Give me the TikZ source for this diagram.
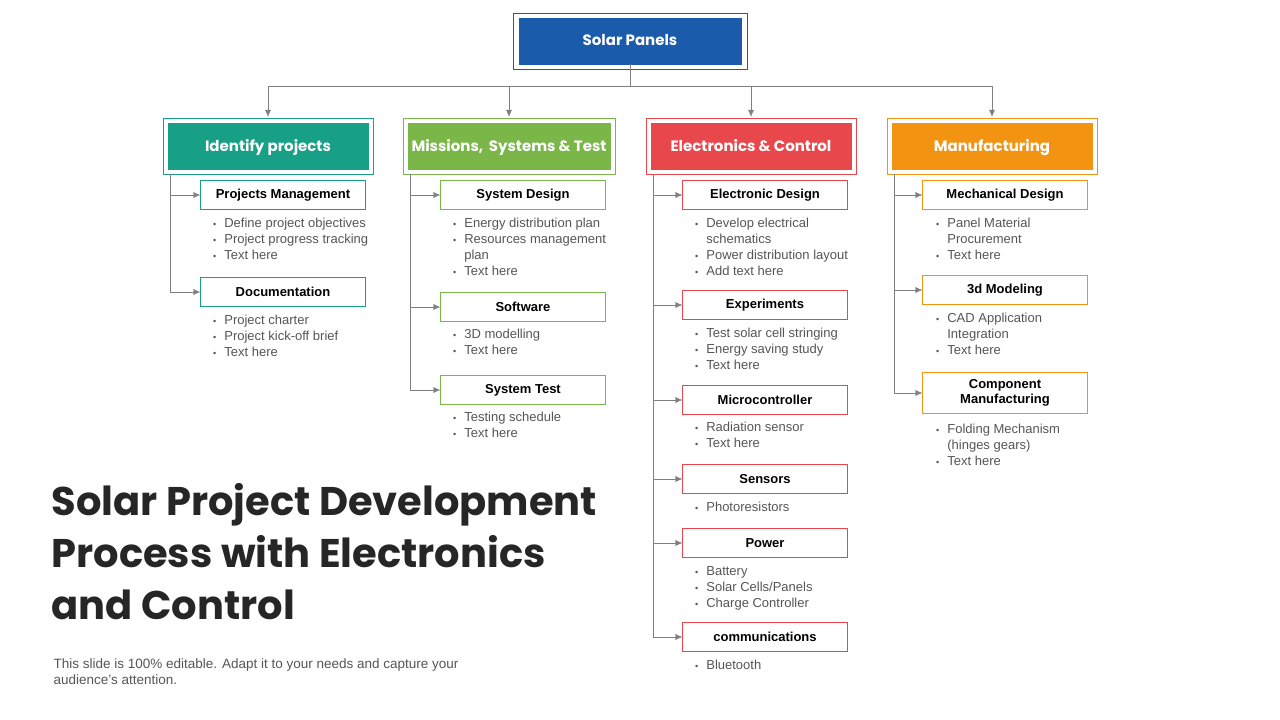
\documentclass[tikz,border=0pt]{standalone}
\usepackage{fontspec}
\setmainfont{Liberation Sans}
\newfontfamily\headfont{Poppins}
\usetikzlibrary{positioning,arrows.meta}
\definecolor{cblue}{HTML}{1B5BAB}
\definecolor{cteal}{HTML}{17A085}
\definecolor{cgreen}{HTML}{7AB648}
\definecolor{cred}{HTML}{E8474C}
\definecolor{corange}{HTML}{F39312}
\definecolor{ctext}{HTML}{555555}
\definecolor{cline}{HTML}{7F7F7F}
\newcommand{\bul}[1]{\begin{tabular}{@{}l@{\hspace{8pt}}l@{}}#1\end{tabular}}
\newcommand{\bb}{{\fontsize{9}{9}\selectfont\textbullet}}
\begin{document}
\begin{tikzpicture}
      [
      x=1pt,y=-1pt,
      cat/.style={rectangle,fill=#1,draw=#1,text=white,minimum width=200pt,minimum height=46pt,
        font=\headfont\bfseries\fontsize{15}{18}\selectfont,text depth=2pt},
      item/.style={rectangle,draw=#1,fill=white,minimum width=165pt,minimum height=29pt,
        font=\bfseries\fontsize{13}{15}\selectfont,align=center,inner sep=1pt},
      notes/.style={anchor=north west,inner sep=0pt,text=ctext,font=\fontsize{13}{16}\selectfont},
      arr/.style={draw=cline,-{Latex[length=7pt,width=6pt]}},
      line/.style={draw=cline}
      ]
      \useasboundingbox (0,0) rectangle (1280,720);
      % top box
      \node (top) at (630,41) [cat=cblue,minimum width=222pt] {Solar Panels};
      \draw [cblue] ([shift={(-6,-5)}]top.north west) rectangle ([shift={(6,5)}]top.south east);
      % categories
      \node (idt) at (268,146) [cat=cteal] {Identify projects};
      \node (mst) at (509,146) [cat=cgreen] {Missions,\, Systems \& Test};
      \node (elc) at (751,146) [cat=cred] {Electronics \& Control};
      \node (man) at (992,146) [cat=corange] {Manufacturing};
      \foreach \n/\c in {idt/cteal,mst/cgreen,elc/cred,man/corange}
        \draw [\c] ([shift={(-5,-5)}]\n.north west) rectangle ([shift={(5,5)}]\n.south east);
      \foreach \n in {idt,mst,elc,man}
        \draw [arr] (top.south) -- ++(0,22) -| ([yshift=6]\n.north);
      % identify projects
      \node (pm) at (283,195) [item=cteal] {Projects Management};
      \node (doc) at (283,292) [item=cteal] {Documentation};
      \node (pmn) at (213,216) [notes] {\bul{\bb&Define project objectives\\\bb&Project progress tracking\\\bb&Text here}};
      \node (docn) at (213,313) [notes] {\bul{\bb&Project charter\\\bb&Project kick-off brief\\\bb&Text here}};
      % missions
      \node (sd) at (523,195) [item=cgreen] {System Design};
      \node (sw) at (523,307) [item=cgreen] {Software};
      \node (st) at (523,390) [item=cgreen] {System Test};
      \node (sdn) at (453,216) [notes] {\bul{\bb&Energy distribution plan\\\bb&Resources management\\&plan\\\bb&Text here}};
      \node (swn) at (453,327) [notes] {\bul{\bb&3D modelling\\\bb&Text here}};
      \node (stn) at (453,410) [notes] {\bul{\bb&Testing schedule\\\bb&Text here}};
      % electronics
      \node (ed) at (765,195) [item=cred] {Electronic Design};
      \node (ex) at (765,305) [item=cred] {Experiments};
      \node (mc) at (765,400) [item=cred] {Microcontroller};
      \node (se) at (765,479) [item=cred] {Sensors};
      \node (pw) at (765,543) [item=cred] {Power};
      \node (cm) at (765,637) [item=cred] {communications};
      \node (edn) at (695,216) [notes] {\bul{\bb&Develop electrical\\&schematics\\\bb&Power distribution layout\\\bb&Add text here}};
      \node (exn) at (695,326) [notes] {\bul{\bb&Test solar cell stringing\\\bb&Energy saving study\\\bb&Text here}};
      \node (mcn) at (695,420) [notes] {\bul{\bb&Radiation sensor\\\bb&Text here}};
      \node (sen) at (695,500) [notes] {\bul{\bb&Photoresistors}};
      \node (pwn) at (695,564) [notes] {\bul{\bb&Battery\\\bb&Solar Cells/Panels\\\bb&Charge Controller}};
      \node (cmn) at (695,658) [notes] {\bul{\bb&Bluetooth}};
      % manufacturing
      \node (md) at (1005,195) [item=corange] {Mechanical Design};
      \node (tm) at (1005,290) [item=corange] {3d Modeling};
      \node (cmf) at (1005,393) [item=corange,minimum height=41pt] {Component\\Manufacturing};
      \node (mdn) at (936,216) [notes] {\bul{\bb&Panel Material\\&Procurement\\\bb&Text here}};
      \node (tmn) at (936,311) [notes] {\bul{\bb&CAD Application\\&Integration\\\bb&Text here}};
      \node (cmfn) at (936,422) [notes] {\bul{\bb&Folding Mechanism\\&(hinges gears)\\\bb&Text here}};
      % branches
      \foreach \p/\c in {idt/pm,idt/doc,mst/sd,mst/sw,mst/st,elc/ed,elc/ex,elc/mc,elc/se,elc/pw,elc/cm,man/md,man/tm,man/cmf}
        \draw [arr] ([shift={(2,5)}]\p.south west) |- (\c.west);
      % title
      \node (ttl) at (48,552) [anchor=west,align=left,text=black!85,
        font=\headfont\bfseries\fontsize{40}{52}\selectfont] {Solar Project Development\\Process with Electronics\\and Control};
      \node (ftr) at (50,672) [anchor=west,align=left,text=ctext,font=\fontsize{13.5}{16}\selectfont]
        {This slide is 100\% editable. Adapt it to your needs and capture your\\audience's attention.};
    \end{tikzpicture}
\end{document}
